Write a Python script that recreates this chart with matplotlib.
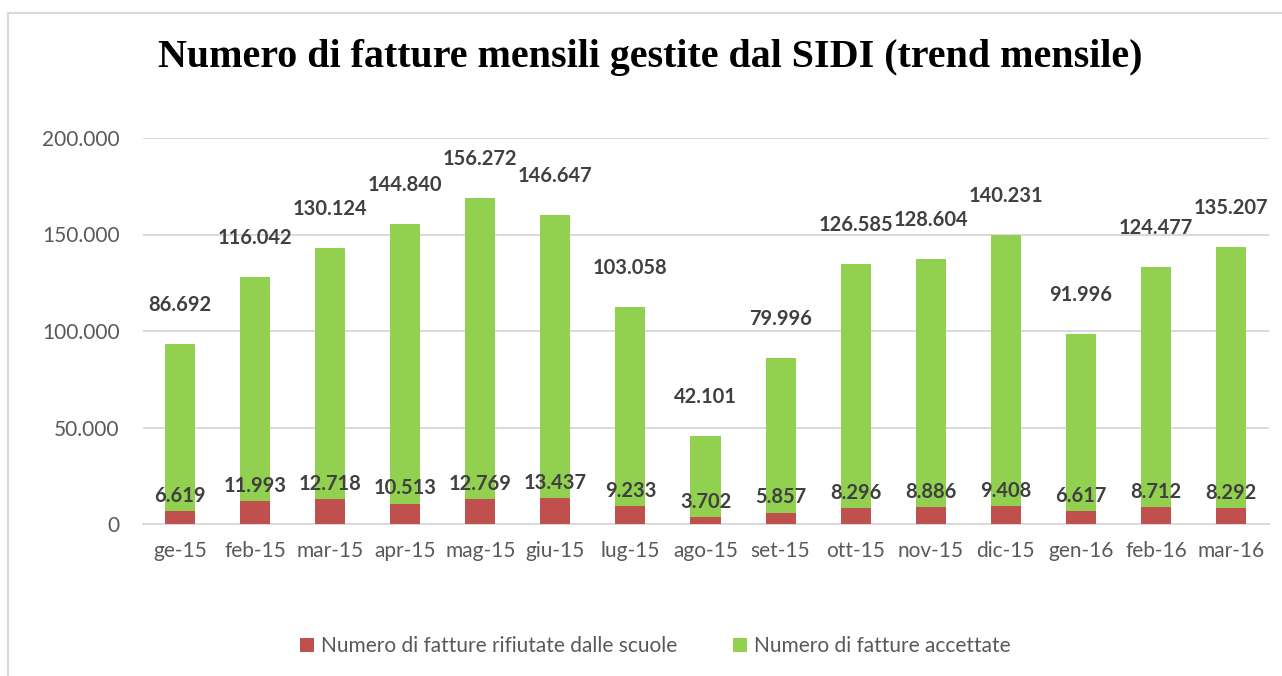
import matplotlib
matplotlib.use("Agg")
import matplotlib.pyplot as plt
from matplotlib.patches import Rectangle
from matplotlib.ticker import FuncFormatter
import numpy as np

categories = ["ge-15", "feb-15", "mar-15", "apr-15", "mag-15", "giu-15", "lug-15",
              "ago-15", "set-15", "ott-15", "nov-15", "dic-15", "gen-16", "feb-16", "mar-16"]
rifiutate = [6619, 11993, 12718, 10513, 12769, 13437, 9233, 3702, 5857, 8296, 8886, 9408, 6617, 8712, 8292]
accettate = [86692, 116042, 130124, 144840, 156272, 146647, 103058, 42101, 79996, 126585, 128604, 140231, 91996, 124477, 135207]
yticks = [0, 50000, 100000, 150000, 200000]

RED = "#C0504D"
GREEN = "#92D050"
GRID = "#D9D9D9"
TICK = "#595959"
LABEL = "#404040"
FONT = "Lato"

def fmt(v):
    return f"{int(v):,}".replace(",", ".")

W, H = 1282, 676
fig = plt.figure(figsize=(W / 100, H / 100), dpi=100)
fig.patches.append(Rectangle((8 / W, -0.1), 1.2, 1 - 13 / H + 0.1, transform=fig.transFigure,
                             fill=False, edgecolor="#D9D9D9", linewidth=1.5))

ax = fig.add_axes([142.5 / W, 1 - 524 / H, (1268.5 - 142.5) / W, (524 - 138) / H])
x = np.arange(len(categories))
bw = 0.4
b1 = ax.bar(x, rifiutate, bw, color=RED, label="Numero di fatture rifiutate dalle scuole", zorder=3)
b2 = ax.bar(x, accettate, bw, bottom=rifiutate, color=GREEN, label="Numero di fatture accettate", zorder=3)

for xi, r, a in zip(x, rifiutate, accettate):
    ax.annotate(fmt(r), (xi, r), xytext=(0, 11), textcoords="offset points", ha="center", va="center",
                fontsize=14.5, fontweight="bold", color=LABEL, family=FONT, zorder=5, annotation_clip=False)
    ax.annotate(fmt(a), (xi, r + a), xytext=(0, 28), textcoords="offset points", ha="center", va="center",
                fontsize=14.5, fontweight="bold", color=LABEL, family=FONT, zorder=5, annotation_clip=False)

ax.set_xlim(-0.5, len(categories) - 0.5)
ax.set_ylim(0, 200000)
ax.set_yticks(yticks)
ax.yaxis.set_major_formatter(FuncFormatter(lambda v, p: fmt(v)))
ax.set_xticks(x)
ax.set_xticklabels(categories)
ax.grid(axis="y", color=GRID, linewidth=1.4, zorder=0)
for s in ["top", "right", "left"]:
    ax.spines[s].set_visible(False)
ax.spines["bottom"].set_color(GRID)
ax.spines["bottom"].set_linewidth(1.4)
ax.tick_params(axis="both", length=0, colors=TICK, labelsize=15)
ax.tick_params(axis="y", pad=16.5)
ax.tick_params(axis="x", pad=12)
for t in ax.get_xticklabels() + ax.get_yticklabels():
    t.set_family(FONT)

title = fig.text(650 / W, 1 - 58 / H, "Numero di fatture mensili gestite dal SIDI (trend mensile)",
                 ha="center", va="center", fontsize=27, fontweight="bold", family="Liberation Serif",
                 color="black")
renderer = fig.canvas.get_renderer()
tw = title.get_window_extent(renderer).width
title.set_fontsize(27 * 983 / tw)

leg = fig.legend(handles=[b1, b2], loc="center", bbox_to_anchor=(655.5 / W, 1 - 646 / H), ncol=2,
                 frameon=False, prop={"family": FONT, "size": 15}, handlelength=0.67, handleheight=0.67,
                 columnspacing=2.7, handletextpad=0.34, borderpad=0)
for t in leg.get_texts():
    t.set_color(TICK)

fig.savefig("out.png", dpi=100)
